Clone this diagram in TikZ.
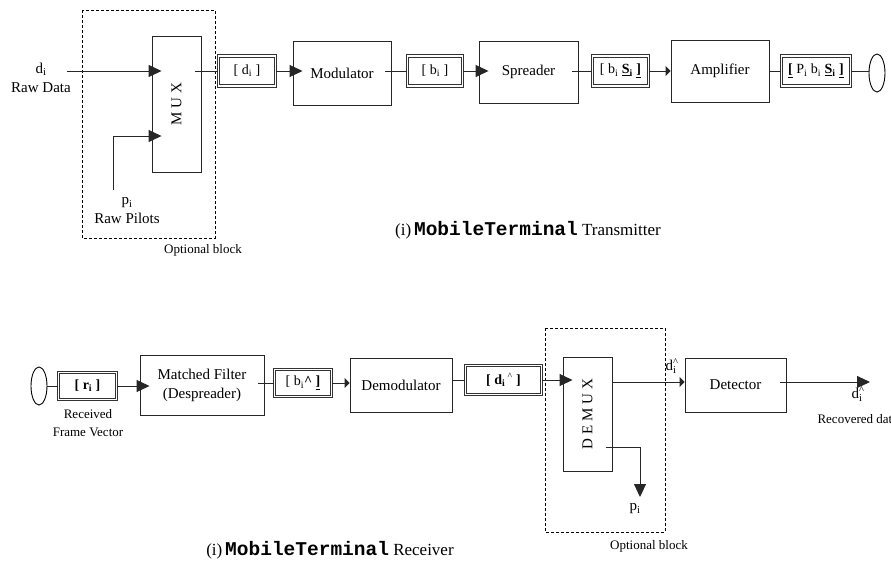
\documentclass[tikz,border=0pt]{standalone}
\usepackage{fontspec}
\setmainfont{Liberation Serif}
\setmonofont{Liberation Mono}
\usetikzlibrary{arrows.meta,shapes.geometric}

\newcommand{\lbl}{\fontsize{15}{19}\selectfont}
\newcommand{\sml}{\fontsize{13}{18}\selectfont}
\newcommand{\vecf}{\fontsize{14}{16}\selectfont}
\newcommand{\ttl}{\fontsize{17}{20}\selectfont}
\newcommand{\ttlmono}{\fontsize{19.5}{20}\selectfont\ttfamily\bfseries}
\newcommand{\ix}{\textsubscript{i}}
\newcommand{\hatix}{\rlap{\textsuperscript{\^{}}}\textsubscript{i}}

\begin{document}
\begin{tikzpicture}[x=1pt,y=-1pt,
  blk/.style={draw=black!85,line width=0.9pt,inner sep=0pt,font=\lbl,align=center},
  vec/.style={draw=black!80,line width=0.9pt,double,double distance=1.3pt,inner sep=0pt,font=\vecf},
  antenna/.style={draw,ellipse,line width=0.9pt,inner sep=0pt,minimum width=16,minimum height=38},
  wire/.style={draw=black!85,line width=0.9pt},
  arr/.style={wire,-{Triangle[length=13pt,width=12pt]}},
  into/.style={arr,shorten >=-10pt},
  onto/.style={wire,-{Triangle[length=5pt,width=10pt]}},
  outof/.style={shorten <=-6pt},
  optional/.style={draw,dashed,dash pattern=on 3pt off 2pt,line width=0.8pt}]
\useasboundingbox (0,0) rectangle (891,563);

% transmitter chain
\draw[optional] (82,10) rectangle (215,238);
\node[blk,minimum width=49,minimum height=136,
  label={[rotate=90,font=\lbl]center:M U X}] (mux) at (176.5,104) {};
\node[vec,minimum width=57,minimum height=30] (vd) at (247,71) {[ d\ix\ ]};
\node[blk,minimum width=98,minimum height=64] (mod) at (342,73) {Modulator};
\node[vec,minimum width=55,minimum height=30] (vb) at (435,71) {[ b\ix\ ]};
\node[blk,minimum width=99,minimum height=62] (spr) at (528.5,72) {Spreader};
\node[vec,minimum width=56,minimum height=30] (vbs) at (620.5,71)
  {[ b\ix\ \textbf{\underline{S}\ix}\ \underline{\textbf{]}}};
\node[blk,minimum width=98,minimum height=62] (amp) at (720,71) {Amplifier};
\node[vec,minimum width=69,minimum height=30] (vpbs) at (816,71)
  {\underline{\textbf{[}}\ P\ix\ b\ix\ \textbf{\underline{S}\ix}\ \underline{\textbf{]}}};
\node[antenna] (txant) at (877,73) {};

\coordinate (din) at (67,71);
\coordinate (pin) at (113,190);
\node[font=\lbl,align=center] (dlbl) at (41,78) {d\ix\\Raw Data};
\node[font=\lbl,align=center] (plbl) at (127,211) {p\ix\\Raw Pilots};
\node[font=\sml] (topt) at (203,250) {Optional block};
\node[font=\ttl] (ttx) at (528,230) {(i)\,{\ttlmono MobileTerminal} Transmitter};

\draw[into] (din) -- (din -| mux.west);
\draw[into] (pin) |- (mux.west |- 0,136);
\draw[wire,outof] (mux.east |- vd.west) -- (vd.west);
\draw[into] (vd.east) -- (vd.east -| mod.west);
\draw[wire,outof] (mod.east |- vb.west) -- (vb.west);
\draw[into] (vb.east) -- (vb.east -| spr.west);
\draw[wire,outof] (spr.east |- vbs.west) -- (vbs.west);
\draw[onto] (vbs.east) -- (vbs.east -| amp.west);
\draw[wire] (amp.east) -- (vpbs.west);
\draw[wire] (vpbs.east) -- (vpbs.east -| txant.west);

% receiver chain
\draw[optional] (545,328) rectangle (665,532);
\node[antenna] (rxant) at (39,386) {};
\node[vec,minimum width=58,minimum height=27,font=\vecf\bfseries] (vr) at (87.5,386) {[ r\ix\ ]};
\node[blk,minimum width=124,minimum height=60] (mf) at (202,385) {Matched Filter\\(Despreader)};
\node[vec,minimum width=57,minimum height=27] (vbh) at (303,383)
  {[ b\ix\textbf{\^{}}\ \underline{\textbf{]}}};
\node[blk,minimum width=102,minimum height=54] (dem) at (401,385) {Demodulator};
\node[vec,minimum width=76,minimum height=29] (vdh) at (503.5,380)
  {\textbf{[ d\ix}\,\textsuperscript{\^{}}\ \textbf{]}};
\node[blk,minimum width=49,minimum height=114,
  label={[rotate=90,font=\lbl]center:D E M U X}] (demux) at (587.5,414) {};
\node[blk,minimum width=101,minimum height=54] (det) at (735.5,385) {Detector};

\coordinate (dout) at (870,382);
\coordinate (pout) at (640,497);
\node[font=\sml,align=center] (rxlbl) at (88,423) {Received\\Frame Vector};
\node[font=\lbl] (dhat) at (671,366) {d\hatix};
\node[font=\lbl] (dhatout) at (857,394) {d\hatix};
\node[font=\sml,anchor=west] (reclbl) at (814,419) {Recovered data};
\node[font=\lbl] (plblr) at (635,509) {p\ix};
\node[font=\sml] (ropt) at (649,546) {Optional block};
\node[font=\ttl] (trx) at (330,550) {(i)\,{\ttlmono MobileTerminal} Receiver};

\draw[wire] (rxant.east) -- (rxant.east -| vr.west);
\draw[into] (vr.east) -- (vr.east -| mf.west);
\draw[wire,outof] (mf.east |- vbh.west) -- (vbh.west);
\draw[onto] (vbh.east) -- (vbh.east -| dem.west);
\draw[wire] (dem.east |- vdh.west) -- (vdh.west);
\draw[into] (vdh.east) -- (vdh.east -| demux.west);
\draw[onto] (demux.east |- 0,382) -- (det.west |- 0,382);
\draw[arr,outof] (det.east |- dout) -- (dout);
\draw[arr,outof] (demux.east |- 0,447) -| (pout);
\end{tikzpicture}
\end{document}
